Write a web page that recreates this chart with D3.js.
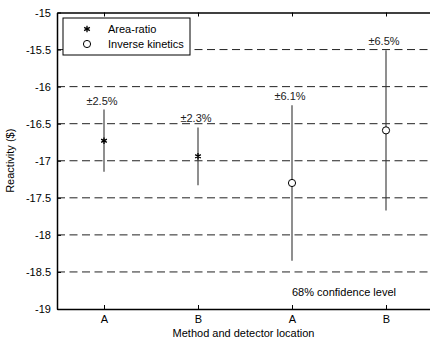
<!DOCTYPE html>
<html>
<head>
<meta charset="utf-8">
<script src="https://cdn.jsdelivr.net/npm/d3@7"></script>
<style>
  body { margin: 0; background: #fff; }
  text { font-family: "Liberation Sans", Arial, sans-serif; font-size: 11px; fill: #000; }
</style>
</head>
<body>
<svg id="chart"></svg>
<script>
// categories along x (method + detector location)
var categories = ["A", "B", "A", "B"];
var methods = ["Area-ratio", "Area-ratio", "Inverse kinetics", "Inverse kinetics"];
var reactivity = [-16.73, -16.94, -17.30, -16.59];
var errHalf = [0.42, 0.39, 1.05, 1.08];
var errLabels = ["\u00b12.5%", "\u00b12.3%", "\u00b16.1%", "\u00b16.5%"];
var yTicks = [-15, -15.5, -16, -16.5, -17, -17.5, -18, -18.5, -19];
var gridVals = [-15.5, -16, -16.5, -17, -17.5, -18, -18.5];
var legendItems = ["Area-ratio", "Inverse kinetics"];

var width = 430, height = 340;
var margin = {left: 57, right: -3, top: 12.5, bottom: 31};

var svg = d3.select("#chart").attr("width", width).attr("height", height);

var x = d3.scaleLinear()
    .domain([0.5, 4.5])
    .range([margin.left, width - margin.right]);

var y = d3.scaleLinear()
    .domain([-19, -15])
    .range([height - margin.bottom, margin.top]);

// dashed grid
svg.append("g").selectAll("line")
    .data(gridVals)
  .enter().append("line")
    .attr("x1", x(0.5)).attr("x2", x(4.5))
    .attr("y1", function(d) { return y(d); })
    .attr("y2", function(d) { return y(d); })
    .attr("stroke", "#222")
    .attr("stroke-width", 1)
    .attr("stroke-dasharray", "8,4.5");

// axes (plain hyphen minus like the original)
var yAxis = d3.axisLeft(y).tickValues(yTicks).tickSizeInner(-4).tickSizeOuter(0)
    .tickPadding(6).tickFormat(function(d) { return String(d); });
var xAxis = d3.axisBottom(x).tickValues([1, 2, 3, 4]).tickSizeInner(-4).tickSizeOuter(0)
    .tickPadding(6).tickFormat(function(d, i) { return categories[i]; });
var xTop = d3.axisTop(x).tickValues([1, 2, 3, 4]).tickSizeInner(-4).tickSizeOuter(0)
    .tickFormat("");

var gy = svg.append("g").attr("transform", "translate(" + margin.left + ",0)").call(yAxis);
var gx = svg.append("g").attr("transform", "translate(0," + y(-19) + ")").call(xAxis);
var gt = svg.append("g").attr("transform", "translate(0," + y(-15) + ")").call(xTop);

[gy, gx, gt].forEach(function(g) {
  g.select(".domain").attr("stroke", "#000").attr("stroke-width", 1.5);
  g.selectAll(".tick line").attr("stroke", "#000");
  g.selectAll("text").style("font-size", "11px").attr("fill", "#000")
    .style("font-family", "'Liberation Sans', Arial, sans-serif");
});

// error bars
var bars = svg.append("g").selectAll("g")
    .data(reactivity)
  .enter().append("g");

bars.append("line")
    .attr("x1", function(d, i) { return x(i + 1); })
    .attr("x2", function(d, i) { return x(i + 1); })
    .attr("y1", function(d, i) { return y(d + errHalf[i]); })
    .attr("y2", function(d, i) { return y(d - errHalf[i]); })
    .attr("stroke", "#333")
    .attr("stroke-width", 1.1);

bars.append("text")
    .attr("x", function(d, i) { return x(i + 1) - 2; })
    .attr("y", function(d, i) { return y(d + errHalf[i]) - 5; })
    .attr("text-anchor", "middle")
    .style("fill", "#222")
    .text(function(d, i) { return errLabels[i]; });

var star = d3.symbol().type(d3.symbolAsterisk).size(30);

function drawMarker(g, method, cx, cy) {
  if (method === "Area-ratio") {
    g.append("path").attr("d", star)
      .attr("transform", "translate(" + cx + "," + cy + ")")
      .attr("fill", "none").attr("stroke", "#000").attr("stroke-width", 1.3);
  } else {
    g.append("circle").attr("cx", cx).attr("cy", cy).attr("r", 3.6)
      .attr("fill", "#fff").attr("stroke", "#000").attr("stroke-width", 1);
  }
}

bars.each(function(d, i) {
  drawMarker(d3.select(this), methods[i], x(i + 1), y(d));
});

// legend
var leg = svg.append("g").attr("transform", "translate(63,18)");
leg.append("rect").attr("width", 127).attr("height", 37)
    .attr("fill", "#fff").attr("stroke", "#000").attr("stroke-width", 1);
legendItems.forEach(function(name, i) {
  drawMarker(leg, name, 24, 11 + i * 15);
  leg.append("text").attr("x", 45).attr("y", 11 + i * 15).attr("dy", "0.35em").text(name);
});

// annotation
svg.append("text").attr("x", 292).attr("y", 296).text("68% confidence level");

// axis titles
svg.append("text")
    .attr("x", (x(0.5) + 430) / 2).attr("y", 337)
    .attr("text-anchor", "middle")
    .text("Method and detector location");

svg.append("text")
    .attr("transform", "translate(14," + ((y(-15) + y(-19)) / 2) + ") rotate(-90)")
    .attr("text-anchor", "middle")
    .text("Reactivity ($)");
</script>
</body>
</html>
